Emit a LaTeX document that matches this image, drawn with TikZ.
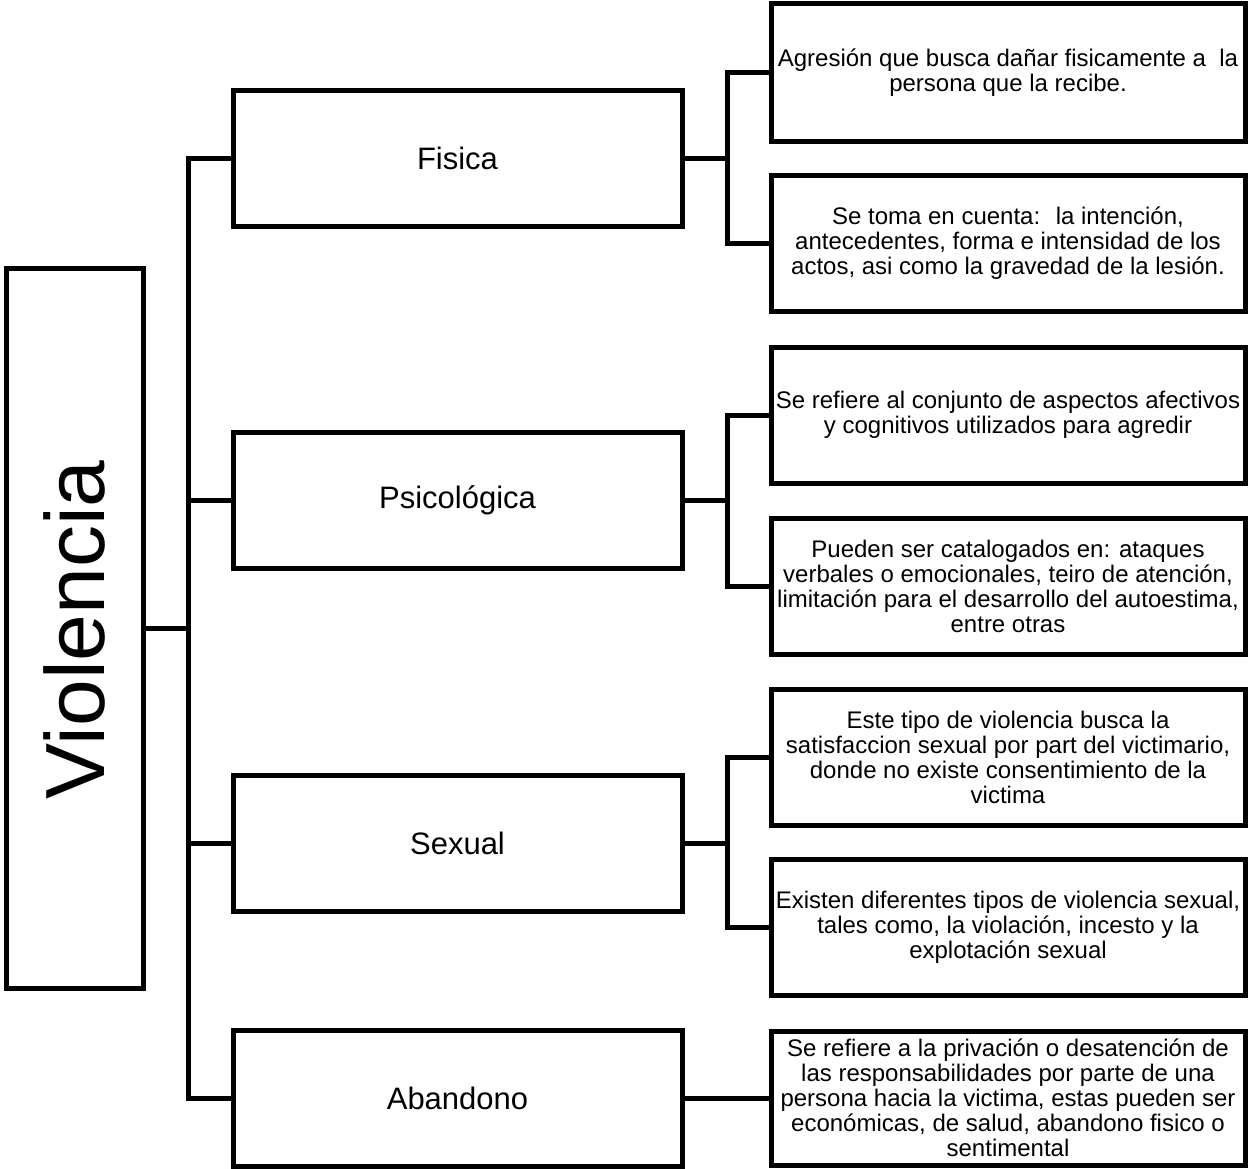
\documentclass[tikz,border=0pt]{standalone}
\usepackage{fontspec}
\setmainfont{Liberation Sans}
\begin{document}
\begin{tikzpicture}[x=1pt,y=-1pt,
  box/.style={draw=black,line width=5pt,fill=white,inner sep=0pt,outer sep=0pt,align=center},
  rootbox/.style={box,minimum width=137pt,minimum height=720pt},
  typebox/.style={box,minimum width=449pt,minimum height=136pt,font=\fontsize{31}{36}\selectfont},
  descbox/.style={box,minimum width=474pt,minimum height=136pt,font=\fontsize{24}{25}\selectfont},
  link/.style={line width=5pt}]
\useasboundingbox (0,0) rectangle (1250,1168);

% root
\node[rootbox] (viol) at (74.5,628) {};
\node[rotate=90,font=\fontsize{84}{84}\selectfont] (violtxt) at (74.5,630) {Violencia};

% violence types
\node[typebox] (fis) at (457.5,158) {Fisica};
\node[typebox] (psi) at (457.5,500.5) {Psicológica};
\node[typebox] (sex) at (457.5,843) {Sexual};
\node[typebox] (aba) at (457.5,1098) {Abandono};

% descriptions
\node[descbox,minimum height=137.5pt] (d1) at (1008,72.5) {Agresión que busca dañar fisicamente a \ la\\persona que la recibe.};
\node[descbox] (d2) at (1008,243.5) {Se toma en cuenta: \ la intención,\\antecedentes, forma e intensidad de los\\actos, asi como la gravedad de la lesión.};
\node[descbox] (d3) at (1008,415) {Se refiere al conjunto de aspectos afectivos\\y cognitivos utilizados para agredir};
\node[descbox] (d4) at (1008,586.5) {Pueden ser catalogados en: ataques\\verbales o emocionales, teiro de atención,\\limitación para el desarrollo del autoestima,\\entre otras};
\node[descbox] (d5) at (1008,757) {Este tipo de violencia busca la\\satisfaccion sexual por part del victimario,\\donde no existe consentimiento de la\\victima};
\node[descbox] (d6) at (1008,927.5) {Existen diferentes tipos de violencia sexual,\\tales como, la violación, incesto y la\\explotación sexual};
\node[descbox,minimum height=134pt] (d7) at (1008,1098) {Se refiere a la privación o desatención de\\las responsabilidades por parte de una\\persona hacia la victima, estas pueden ser\\económicas, de salud, abandono fisico o\\sentimental};

% left tree
\draw[link] (fis.west) -- ++(-44.5,0) |- (aba.west);
\draw[link] (psi.west) -- ++(-44.5,0);
\draw[link] (sex.west) -- ++(-44.5,0);
\draw[link] (viol.east) -- ++(45.5,0);

% right brackets
\draw[link] (d1.west) -- ++(-43.5,0) |- (d2.west);
\draw[link] (fis.east) -- ++(45.5,0);
\draw[link] (d3.west) -- ++(-43.5,0) |- (d4.west);
\draw[link] (psi.east) -- ++(45.5,0);
\draw[link] (d5.west) -- ++(-43.5,0) |- (d6.west);
\draw[link] (sex.east) -- ++(45.5,0);
\draw[link] (aba.east) -- (d7.west);
\end{tikzpicture}
\end{document}
